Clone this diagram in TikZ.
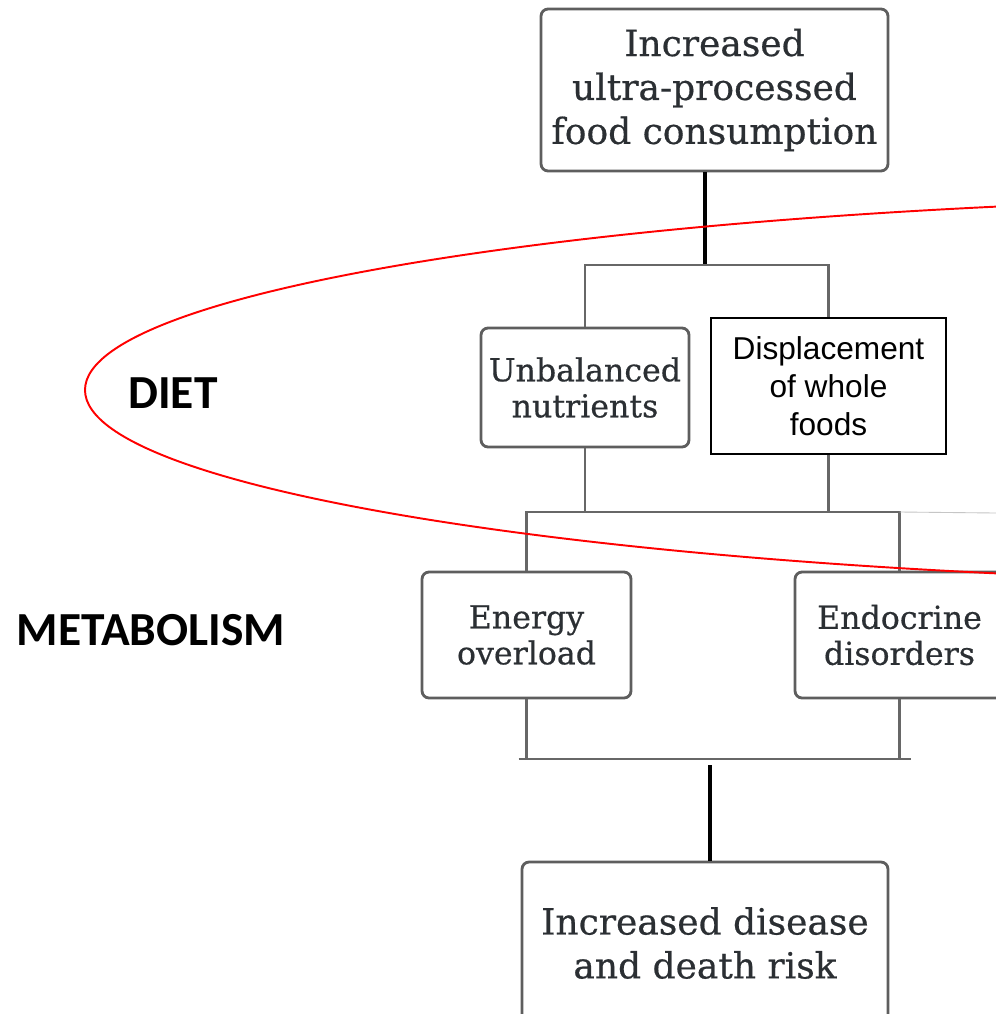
\documentclass[tikz,border=0pt]{standalone}
\usepackage{fontspec}
\setmainfont{DejaVu Serif}[FakeBold=0.5]
\newfontfamily\labelfont{Carlito}
\newfontfamily\plainsans{Liberation Sans}
\usetikzlibrary{calc,positioning}

\definecolor{boxgray}{HTML}{5E5E5E}
\definecolor{inkgray}{HTML}{2B2F33}
\definecolor{linkgray}{HTML}{676767}

\begin{document}
\begin{tikzpicture}[
    x=0.02cm, y=-0.02cm,
    stage/.style    = {draw=boxgray, line width=1.6pt, rounded corners=4pt,
                       fill=white, text=inkgray, align=center, inner sep=0pt},
    bigtext/.style  = {font=\fontsize{20.5}{25}\selectfont},
    midtext/.style  = {font=\fontsize{18}{20.5}\selectfont},
    plainbox/.style = {draw=black, line width=0.8pt, fill=white, align=center,
                       inner sep=0pt, font=\plainsans\fontsize{18}{21.6}\selectfont},
    tag/.style      = {font=\labelfont\bfseries\fontsize{27}{30}\selectfont},
    link/.style     = {draw=linkgray, line width=1.5pt},
    feed/.style     = {draw=black, line width=1.8pt},
    faint/.style    = {draw=gray!45, line width=0.5pt},
    ring/.style     = {draw=red, line width=1.1pt}
  ]

\path[use as bounding box, fill=white] (0,0) rectangle (996,1014);

% =========================================================
% Boxes
% =========================================================
\node[stage, bigtext, minimum width=6.94cm, minimum height=3.24cm] (upf) at (714.5,90)
  {Increased\\ultra-processed\\food consumption};

\node[stage, midtext, minimum width=4.16cm, minimum height=2.38cm] (unbal) at (585,387.5)
  {Unbalanced\\nutrients};
\node[plainbox, minimum width=4.7cm, minimum height=2.72cm] (displace) at (828.5,386)
  {Displacement\\of whole\\foods};

\node[stage, midtext, minimum width=4.18cm, minimum height=2.52cm] (energy) at (526.5,635)
  {Energy\\overload};
\node[stage, midtext, minimum width=4.18cm, minimum height=2.52cm] (endocr) at (899.5,635)
  {Endocrine\\disorders};

\node[stage, bigtext, minimum width=7.32cm, minimum height=3.24cm] (risk) at (705,943)
  {Increased disease\\and death risk};

% Level labels
\node[tag] (diet)  at (173,393) {DIET};
\node[tag] (metab) at (151,630) {METABOLISM};

% =========================================================
% Connectors
% =========================================================
\coordinate (split)  at (705,265);
\coordinate (merge)  at (0,512);
\coordinate (join)   at (0,759);
\coordinate (outlet) at (710,765);
\coordinate (rim)    at (996,513);

\draw[feed] (upf.south -| split) -- (split);
\draw[link] (unbal.north) |- (split) -| (displace.north);

\draw[link] (unbal.south) -- (unbal.south |- merge);
\draw[link] (displace.south) -- (displace.south |- merge);
\draw[link] (energy.north) -- (energy.north |- merge) -- (endocr.north |- merge) -- (endocr.north);
\draw[faint] (endocr.north |- merge) -- (rim);

\draw[link] (energy.south) -- (energy.south |- join);
\draw[link] (endocr.south) -- (endocr.south |- join);
\draw[link] ($(energy.south |- join)+(-8,0)$) -- ($(endocr.south |- join)+(11,0)$);
\draw[feed] (outlet) -- (risk.north -| outlet);

% Diet region outline
\draw[ring] (1411,390) ellipse [x radius=1326, y radius=193];

\end{tikzpicture}
\end{document}
